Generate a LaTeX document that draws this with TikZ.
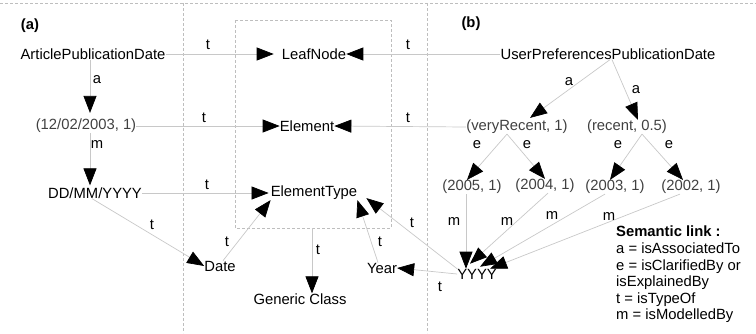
\documentclass[tikz,border=0pt]{standalone}
\usepackage{fontspec}
\setmainfont{Liberation Sans}
\usetikzlibrary{arrows.meta}
\begin{document}
\begin{tikzpicture}[x=1pt, y=-1pt,
  lbl/.style={inner sep=0pt, font=\fontsize{14.8}{16.6}\selectfont},
  val/.style={lbl, text=valgray},
  conn/.style={draw=linegray, line width=0.7pt, -{Triangle[length=17pt, width=13pt, color=black]}},
  sep/.style={draw=dashgray, line width=0.6pt, dash pattern=on 3pt off 2pt}]
\definecolor{valgray}{HTML}{404040}
\definecolor{linegray}{HTML}{C8C8C8}
\definecolor{dashgray}{HTML}{BEBEBE}
\useasboundingbox (0,0) rectangle (756,333);
\draw[sep] (0,3) -- (756,3);
\draw[sep] (183,3) -- (183,333);
\draw[sep] (427,3) -- (427,333);
\draw[sep] (235,20) rectangle (391,228);
\coordinate (boxs) at (312,228);
\node[lbl, font=\fontsize{14.8}{16.6}\selectfont\bfseries] (pa) at (30,26) {(a)};
\node[lbl, font=\fontsize{14.8}{16.6}\selectfont\bfseries] (pb) at (471,24) {(b)};
\node[lbl] (art) at (93,54) {ArticlePublicationDate};
\node[lbl] (leaf) at (314,54) {LeafNode};
\node[lbl] (user) at (608,54) {UserPreferencesPublicationDate};
\node[val] (d1) at (86,126) {(12/02/2003, 1)};
\node[lbl] (elem) at (307,126) {Element};
\node[val] (vr) at (517,127) {(veryRecent, 1)};
\node[val] (rc) at (627,127) {(recent, 0.5)};
\node[lbl] (fmt) at (95,193) {DD/MM/YYYY};
\node[lbl] (etype) at (314,193) {ElementType};
\node[val] (y5) at (472,187) {(2005, 1)};
\node[val] (y4) at (545,186) {(2004, 1)};
\node[val] (y3) at (615,187) {(2003, 1)};
\node[val] (y2) at (691,187) {(2002, 1)};
\node[lbl] (date) at (220,266) {Date};
\node[lbl] (year) at (382,268) {Year};
\node[lbl] (yyyy) at (477,274) {YYYY};
\node[lbl] (gen) at (300,299) {Generic Class};
\node[lbl, anchor=north west, align=left] (legend) at (616,226) {\textbf{Semantic link :}\\a = isAssociatedTo\\e = isClarifiedBy or\\isExplainedBy\\t = isTypeOf\\m = isModelledBy};
\draw[conn] (art.east) -- ([xshift=-8pt]leaf.west);
\draw[conn] (user.west) -- (leaf.east);
\draw[conn] (d1.east) -- (elem.west);
\draw[conn] (vr.west) -- (elem.east);
\draw[conn] (fmt.east) -- ([xshift=-2pt]etype.west);
\draw[conn] ([xshift=-3pt]art.south) -- ([xshift=4pt, yshift=6pt]d1.north);
\draw[conn] ([xshift=4pt]d1.south) -- ([xshift=-5pt, yshift=2pt]fmt.north);
\draw[conn] ([xshift=-3pt]fmt.south) -- (date.west);
\draw[conn] ([xshift=3pt]date.north) -- (etype.south west);
\draw[conn] (boxs) -- (boxs |- gen.north);
\draw[conn] ([xshift=-4pt]year.north) -- (etype.south east);
\draw[conn] (yyyy.north west) -- ([xshift=9pt, yshift=2pt]etype.south east);
\draw[conn] (yyyy.west) -- (year.east);
\draw[conn] ([xshift=2pt]user.south) -- ([xshift=13pt, yshift=2pt]vr.north);
\draw[conn] ([xshift=4pt]user.south) -- ([xshift=11pt]rc.north);
\draw[conn] ([xshift=-10pt]vr.south) -- ([xshift=-5pt]y5.north);
\draw[conn] ([xshift=-10pt]vr.south) -- (y4.north);
\draw[conn] ([xshift=15pt]rc.south) -- ([xshift=-5pt]y3.north);
\draw[conn] ([xshift=15pt]rc.south) -- ([xshift=-8pt]y2.north);
\draw[conn] ([xshift=-6pt]y5.south) -- ([xshift=-11pt]yyyy.north);
\draw[conn] ([xshift=3pt]y4.south) -- ([xshift=-7pt, yshift=5pt]yyyy.north);
\draw[conn] ([xshift=-10pt]y3.south) -- ([xshift=3pt, yshift=2pt]yyyy.north);
\draw[conn] ([xshift=-11pt]y2.south) -- ([xshift=13pt]yyyy.north);
\node[lbl] (t1) at (208,45) {t};
\node[lbl] (t2) at (408,45) {t};
\node[lbl] (a1) at (97,80) {a};
\node[lbl] (t3) at (204,118) {t};
\node[lbl] (t4) at (408,118) {t};
\node[lbl] (m1) at (97,145) {m};
\node[lbl] (t5) at (207,185) {t};
\node[lbl] (t6) at (152,225) {t};
\node[lbl] (t7) at (227,242) {t};
\node[lbl] (t8) at (318,250) {t};
\node[lbl] (t9) at (380,242) {t};
\node[lbl] (t10) at (412,223) {t};
\node[lbl] (t11) at (440,287) {t};
\node[lbl] (a2) at (569,82) {a};
\node[lbl] (a3) at (636,90) {a};
\node[lbl] (e1) at (477,145) {e};
\node[lbl] (e2) at (527,145) {e};
\node[lbl] (e3) at (618,145) {e};
\node[lbl] (e4) at (669,145) {e};
\node[lbl] (m2) at (454,222) {m};
\node[lbl] (m3) at (507,222) {m};
\node[lbl] (m4) at (552,216) {m};
\node[lbl] (m5) at (609,217) {m};
\end{tikzpicture}
\end{document}
